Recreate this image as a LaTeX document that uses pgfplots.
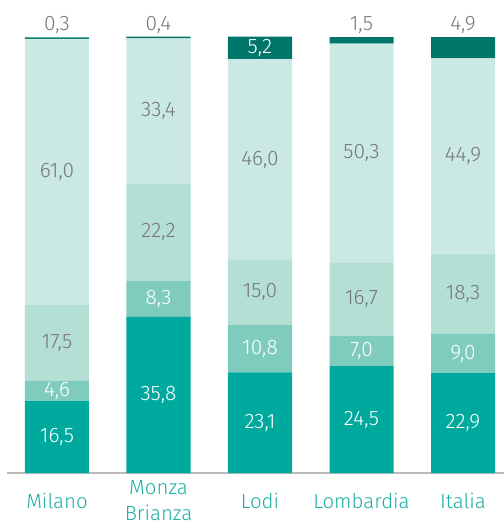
\documentclass[border=0pt]{standalone}
\usepackage{pgfplots}
\pgfplotsset{compat=1.18}
\usepackage{fontspec}
\setmainfont{Fira Sans}[UprightFont={* Light}]
\definecolor{cA}{HTML}{00A99D}
\definecolor{cB}{HTML}{7FCCBF}
\definecolor{cC}{HTML}{B3DFD5}
\definecolor{cD}{HTML}{CAE8E4}
\definecolor{cE}{HTML}{00766B}
\definecolor{lblgray}{HTML}{777777}
\definecolor{ticktxt}{HTML}{1DB0A3}
\definecolor{basegray}{HTML}{BBBBBB}
\begin{document}
\begin{tikzpicture}
\begin{axis}[
  at={(7bp,52bp)}, anchor=south west,
  scale only axis, width=497bp, height=473bp,
  xmin=-0.4926, xmax=4.404, ymin=0, ymax=108.49,
  ybar stacked, bar width=64bp,
  axis y line=none, axis x line=bottom,
  x axis line style={-, basegray, line width=2bp},
  xtick={0,1,2,3,4},
  xticklabels={Milano,{Monza\\Brianza},Lodi,Lombardia,Italia},
  major tick length=0pt,
  xticklabel style={anchor=center, yshift=-27.5bp, align=center, text=ticktxt,
    font=\fontsize{20.5}{26}\selectfont},
  point meta=explicit,
  nodes near coords,
  /pgf/number format/fixed, /pgf/number format/fixed zerofill,
  /pgf/number format/precision=1, /pgf/number format/use comma,
  /pgf/number format/assume math mode=true,
  nodes near coords style={font=\fontsize{21}{25}\selectfont, anchor=center},
  visualization depends on={rawy \as \rawy},
  clip=false,
]
\addplot[fill=cA, draw=none, every node near coord/.append style={text=white}]
  coordinates {(0,16.5)[16.5] (1,35.8)[35.8] (2,23.1)[23.1] (3,24.5)[24.5] (4,22.9)[22.9]};
\addplot[fill=cB, draw=none, every node near coord/.append style={text=white}]
  coordinates {(0,4.6)[4.6] (1,8.3)[8.3] (2,10.8)[10.8] (3,7.0)[7.0] (4,9.0)[9.0]};
\addplot[fill=cC, draw=none, every node near coord/.append style={text=lblgray}]
  coordinates {(0,17.5)[17.5] (1,22.2)[22.2] (2,15.0)[15.0] (3,16.7)[16.7] (4,18.3)[18.3]};
\addplot[fill=cD, draw=none, every node near coord/.append style={text=lblgray}]
  coordinates {(0,61.0)[61.0] (1,33.4)[33.4] (2,46.0)[46.0] (3,50.3)[50.3] (4,44.9)[44.9]};
\addplot[fill=cE, draw=none, every node near coord/.append code={%
    \pgfmathtruncatemacro\inside{\rawy>5}%
    \ifnum\inside=1 \pgfkeysalso{/tikz/text=white}%
    \else \pgfkeysalso{/tikz/text=lblgray,/tikz/yshift={2.18bp*\rawy+12bp}}\fi}]
  coordinates {(0,0.3)[0.3] (1,0.4)[0.4] (2,5.2)[5.2] (3,1.5)[1.5] (4,4.9)[4.9]};
\end{axis}
\pgfresetboundingbox
\path[use as bounding box] (0,0) rectangle (504bp,525bp);
\end{tikzpicture}
\end{document}
